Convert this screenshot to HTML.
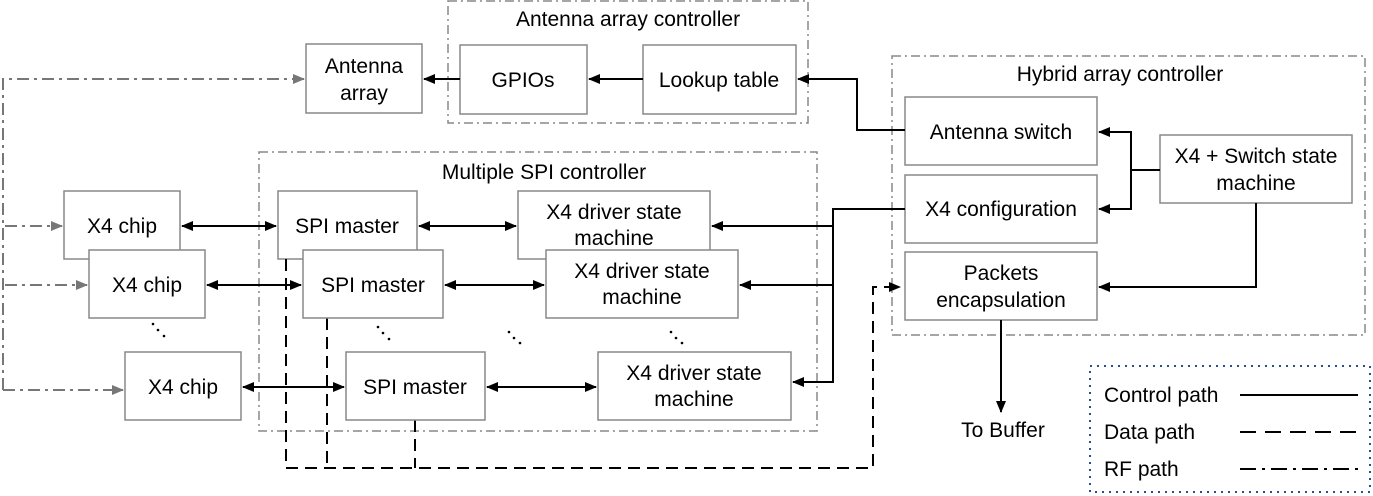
<!DOCTYPE html>
<html><head><meta charset="utf-8"><style>
html,body{margin:0;padding:0;background:#fff}
svg{display:block}
text{font-family:"Liberation Sans",Arial,sans-serif;font-size:21px;fill:#000}
</style></head><body>
<svg width="1373" height="496" viewBox="0 0 1373 496" xmlns="http://www.w3.org/2000/svg">
<defs>
<marker id="a" markerWidth="12" markerHeight="10" refX="11" refY="5" orient="auto-start-reverse" markerUnits="userSpaceOnUse"><path d="M0,0 L12,5 L0,10 z" fill="#000"/></marker>
<marker id="g" markerWidth="12" markerHeight="10" refX="11" refY="5" orient="auto-start-reverse" markerUnits="userSpaceOnUse"><path d="M0,0 L12,5 L0,10 z" fill="#777"/></marker>
</defs>
<g fill="none" stroke="#888" stroke-width="1.5" stroke-dasharray="9,4,2,4">
<rect x="448" y="1" width="360" height="122"/>
<rect x="892" y="56" width="473" height="279"/>
<rect x="259" y="152" width="558" height="279"/>
</g>
<rect x="1090" y="366" width="280" height="126" fill="none" stroke="#2a4f8a" stroke-width="2" stroke-dasharray="2,5"/>
<text x="628" y="26" text-anchor="middle">Antenna array controller</text>
<text x="1120" y="81" text-anchor="middle">Hybrid array controller</text>
<text x="544" y="179" text-anchor="middle">Multiple SPI controller</text>

<g fill="none" stroke="#000" stroke-width="2" stroke-dasharray="12,7">
<path d="M286,259 V468 H873 V287 H900" marker-end="url(#a)"/>
<path d="M327,318 V468"/>
<path d="M415,420 V468"/>
</g>
<g fill="none" stroke="#777" stroke-width="2" stroke-dasharray="12,5,3,5">
<path d="M3,390 V79 H304" marker-end="url(#g)"/>
<path d="M3,390 H123" marker-end="url(#g)"/>
<path d="M5,226 H62" marker-end="url(#g)"/>
<path d="M5,285 H87" marker-end="url(#g)"/>
</g>

<g fill="#fff" stroke="#888" stroke-width="1.5">
<rect x="306" y="44" width="116" height="69"/>
<rect x="460" y="45" width="127" height="69"/>
<rect x="643" y="45" width="153" height="69"/>
<rect x="905" y="97" width="192" height="68"/>
<rect x="905" y="175" width="192" height="68"/>
<rect x="905" y="252" width="192" height="68"/>
<rect x="1160" y="135" width="192" height="68"/>
<rect x="64" y="191" width="116" height="68"/>
<rect x="89" y="250" width="116" height="68"/>
<rect x="125" y="352" width="116" height="68"/>
<rect x="278" y="191" width="139" height="68"/>
<rect x="518" y="191" width="192" height="68"/>
</g>
<path d="M286,259 V318" stroke="#000" stroke-width="2" stroke-dasharray="12,7"/>
<g fill="#fff" stroke="#888" stroke-width="1.5">
<rect x="303" y="250" width="140" height="68"/>
<rect x="546" y="250" width="192" height="68"/>
<rect x="346" y="352" width="139" height="68"/>
<rect x="598" y="352" width="193" height="68"/>
</g>

<g fill="none" stroke="#000" stroke-width="2">
<path d="M905,130 H857 V79 H798" marker-end="url(#a)"/>
<path d="M643,79 H589" marker-end="url(#a)"/>
<path d="M460,79 H424" marker-end="url(#a)"/>
<path d="M182,226 H276" marker-start="url(#a)" marker-end="url(#a)"/>
<path d="M207,285 H301" marker-start="url(#a)" marker-end="url(#a)"/>
<path d="M243,387 H344" marker-start="url(#a)" marker-end="url(#a)"/>
<path d="M419,226 H516" marker-start="url(#a)" marker-end="url(#a)"/>
<path d="M445,285 H544" marker-start="url(#a)" marker-end="url(#a)"/>
<path d="M487,387 H596" marker-start="url(#a)" marker-end="url(#a)"/>
<path d="M905,209 H833 V382 H793" marker-end="url(#a)"/>
<path d="M833,226 H712" marker-end="url(#a)"/>
<path d="M833,285 H740" marker-end="url(#a)"/>
<path d="M1160,170 H1131 V132 H1099" marker-end="url(#a)"/>
<path d="M1131,170 V209 H1099" marker-end="url(#a)"/>
<path d="M1256,203 V287 H1099" marker-end="url(#a)"/>
<path d="M1001,320 V412" marker-end="url(#a)"/>
<path d="M1240,395 H1358"/>
<path d="M1240,432 H1358" stroke-dasharray="16,9"/>
<path d="M1240,469 H1358" stroke-dasharray="16,6,3,6"/>
</g>

<g text-anchor="middle">
<text x="364" y="73">Antenna</text><text x="364" y="100">array</text>
<text x="523" y="87">GPIOs</text>
<text x="719" y="87">Lookup table</text>
<text x="1001" y="139">Antenna switch</text>
<text x="1001" y="216">X4 configuration</text>
<text x="1001" y="280">Packets</text><text x="1001" y="307">encapsulation</text>
<text x="1256" y="163">X4 + Switch state</text><text x="1256" y="190">machine</text>
<text x="122" y="233">X4 chip</text>
<text x="147" y="292">X4 chip</text>
<text x="183" y="394">X4 chip</text>
<text x="347" y="233">SPI master</text>
<text x="373" y="292">SPI master</text>
<text x="415" y="394">SPI master</text>
<text x="614" y="219">X4 driver state</text><text x="614" y="245">machine</text>
<text x="642" y="278">X4 driver state</text><text x="642" y="304">machine</text>
<text x="694" y="380">X4 driver state</text><text x="694" y="406">machine</text>
<text x="1003" y="437">To Buffer</text>
</g>
<text x="1104" y="402">Control path</text>
<text x="1104" y="439">Data path</text>
<text x="1104" y="476">RF path</text>
<g fill="#000">
<circle cx="153" cy="324" r="1.3"/><circle cx="158" cy="330" r="1.3"/><circle cx="164" cy="336" r="1.3"/>
<circle cx="378" cy="327" r="1.3"/><circle cx="383" cy="333" r="1.3"/><circle cx="389" cy="339" r="1.3"/>
<circle cx="509" cy="332" r="1.3"/><circle cx="514" cy="338" r="1.3"/><circle cx="520" cy="343" r="1.3"/>
<circle cx="671" cy="332" r="1.3"/><circle cx="676" cy="338" r="1.3"/><circle cx="682" cy="343" r="1.3"/>
</g>
</svg>
</body></html>
